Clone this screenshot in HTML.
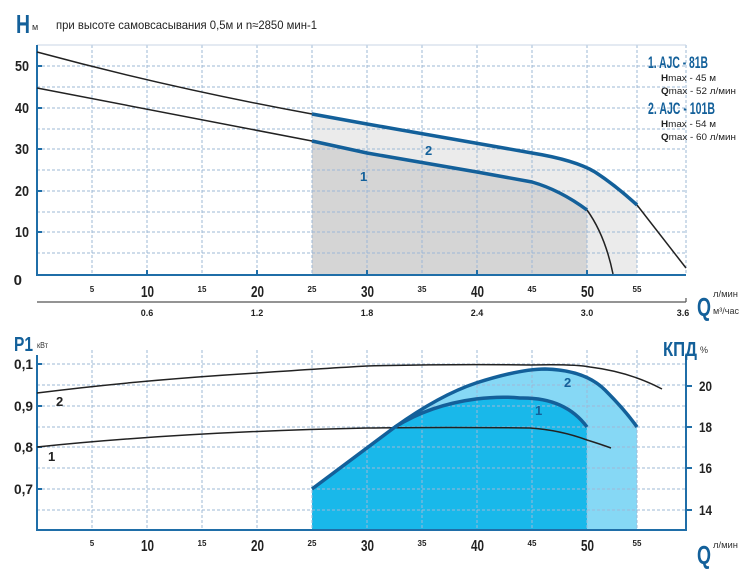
<!DOCTYPE html>
<html><head><meta charset="utf-8"><style>
html,body{margin:0;padding:0;background:#fff;width:750px;height:580px;overflow:hidden}
svg{display:block}
text{font-family:"Liberation Sans",sans-serif}
</style></head><body>
<svg width="750" height="580" viewBox="0 0 750 580" xmlns="http://www.w3.org/2000/svg">
<!-- TOP CHART -->
<path d="M312,114 L367,124 L532,153 Q575,160 595,172 Q615,185 637,205 L637,274 L312,274 Z" fill="#ebebeb"/>
<path d="M312,141 L367,153 L477,172 L532,182 Q560,190 587,210 L587,274 L312,274 Z" fill="#d5d5d5"/>
<g stroke="#9db8d6" stroke-width="1" stroke-dasharray="3,2" fill="none">
<path d="M37,66H686M37,87H686M37,108H686M37,129H686M37,149H686M37,170H686M37,191H686M37,212H686M37,232H686M37,253H686"/>
<path d="M92,45V274M147,45V274M202,45V274M257,45V274M312,45V274M367,45V274M422,45V274M477,45V274M532,45V274M587,45V274M637,45V274M686,45V274"/>
</g>
<path d="M37,45H686" stroke="#c8d6e6" stroke-width="1"/>
<path d="M37,45V275H686" stroke="#1f6ea8" stroke-width="2" fill="none"/>
<g stroke="#1f6ea8" stroke-width="2"><path d="M147,270V275M257,270V275M367,270V275M477,270V275M587,270V275M37,66H42M37,108H42M37,149H42M37,191H42M37,232H42"/></g>
<path d="M37,52 Q170,88 312,114" stroke="#222" stroke-width="1.5" fill="none"/>
<path d="M637,205 L686,268" stroke="#222" stroke-width="1.5" fill="none"/>
<path d="M37,88 Q175,115 312,141" stroke="#222" stroke-width="1.5" fill="none"/>
<path d="M587,210 Q605,235 613,274" stroke="#222" stroke-width="1.5" fill="none"/>
<path d="M312,114 L367,124 L532,153 Q575,160 595,172 Q615,185 637,205" stroke="#13609a" stroke-width="3.5" fill="none"/>
<path d="M312,141 L367,153 L477,172 L532,182 Q560,190 587,210" stroke="#13609a" stroke-width="3.5" fill="none"/>
<text x="425" y="155" font-size="13" font-weight="bold" fill="#13609a">2</text>
<text x="360" y="181" font-size="13" font-weight="bold" fill="#13609a">1</text>
<text x="16" y="33" font-size="26" font-weight="bold" fill="#13609a" textLength="14" lengthAdjust="spacingAndGlyphs">H</text>
<text x="32" y="30" font-size="9" fill="#333">м</text>
<text x="56" y="29" font-size="12" fill="#222" textLength="261" lengthAdjust="spacingAndGlyphs">при высоте самовсасывания 0,5м и n≈2850 мин-1</text>
<g font-size="15" font-weight="bold" fill="#222" text-anchor="end">
<text x="29" y="71" textLength="14" lengthAdjust="spacingAndGlyphs">50</text><text x="29" y="113" textLength="14" lengthAdjust="spacingAndGlyphs">40</text><text x="29" y="154" textLength="14" lengthAdjust="spacingAndGlyphs">30</text><text x="29" y="196" textLength="14" lengthAdjust="spacingAndGlyphs">20</text><text x="29" y="237" textLength="14" lengthAdjust="spacingAndGlyphs">10</text><text x="22" y="285">0</text></g>
<g font-size="8" font-weight="bold" fill="#222" text-anchor="middle">
<text x="92" y="292">5</text><text x="202" y="292">15</text><text x="312" y="292">25</text><text x="422" y="292">35</text><text x="532" y="292">45</text><text x="637" y="292">55</text></g>
<g font-size="16" font-weight="bold" fill="#222">
<text x="141" y="297" textLength="13" lengthAdjust="spacingAndGlyphs">10</text><text x="251" y="297" textLength="13" lengthAdjust="spacingAndGlyphs">20</text><text x="361" y="297" textLength="13" lengthAdjust="spacingAndGlyphs">30</text><text x="471" y="297" textLength="13" lengthAdjust="spacingAndGlyphs">40</text><text x="581" y="297" textLength="13" lengthAdjust="spacingAndGlyphs">50</text></g>
<path d="M37,302H686M686,298V302" stroke="#555" stroke-width="1.2"/>
<g font-size="9" font-weight="bold" fill="#222" text-anchor="middle">
<text x="147" y="316">0.6</text><text x="257" y="316">1.2</text><text x="367" y="316">1.8</text><text x="477" y="316">2.4</text><text x="587" y="316">3.0</text><text x="683" y="316">3.6</text></g>
<text x="697" y="316" font-size="26" font-weight="bold" fill="#13609a" textLength="14" lengthAdjust="spacingAndGlyphs">Q</text>
<text x="713" y="297" font-size="9" fill="#333" textLength="25" lengthAdjust="spacingAndGlyphs">л/мин</text>
<text x="713" y="314" font-size="9" fill="#333" textLength="26" lengthAdjust="spacingAndGlyphs">м³/час</text>
<text x="648" y="68" font-size="17" font-weight="bold" fill="#13609a" textLength="60" lengthAdjust="spacingAndGlyphs">1. AJC - 81B</text>
<text x="661" y="81" font-size="9" fill="#222" textLength="55" lengthAdjust="spacingAndGlyphs"><tspan font-weight="bold">H</tspan>max - 45 м</text>
<text x="661" y="94" font-size="9" fill="#222" textLength="75" lengthAdjust="spacingAndGlyphs"><tspan font-weight="bold">Q</tspan>max - 52 л/мин</text>
<text x="648" y="114" font-size="17" font-weight="bold" fill="#13609a" textLength="67" lengthAdjust="spacingAndGlyphs">2. AJC - 101B</text>
<text x="661" y="127" font-size="9" fill="#222" textLength="55" lengthAdjust="spacingAndGlyphs"><tspan font-weight="bold">H</tspan>max - 54 м</text>
<text x="661" y="140" font-size="9" fill="#222" textLength="75" lengthAdjust="spacingAndGlyphs"><tspan font-weight="bold">Q</tspan>max - 60 л/мин</text>

<!-- BOTTOM CHART -->
<path d="M312,489 L395,427 Q440,395 476,383 Q520,369 545,369 Q585,370 605,390 Q625,410 637,427 L637,530 L312,530 Z" fill="#86d8f5"/>
<path d="M312,489 L395,427 Q430,405 476,399 Q500,396 520,398 Q565,397 587,427 L587,530 L312,530 Z" fill="#19b8ea"/>
<g stroke="#9db8d6" stroke-width="1" stroke-dasharray="3,2" fill="none">
<path d="M37,364H686M37,385H686M37,406H686M37,427H686M37,447H686M37,468H686M37,489H686M37,510H686"/>
<path d="M92,350V530M147,350V530M202,350V530M257,350V530M312,350V530M367,350V530M422,350V530M477,350V530M532,350V530M587,350V530M637,350V530"/>
</g>
<path d="M37,355V530H686V355" stroke="#1f6ea8" stroke-width="2" fill="none"/>
<g stroke="#1f6ea8" stroke-width="2"><path d="M686,386H692M686,427H692M686,468H692M686,510H692M37,364H42M37,406H42M37,447H42M37,489H42"/></g>
<path d="M37,393 Q140,380 257,373 Q330,368 367,366 Q450,364 530,365 Q575,364 590,367 Q630,372 662,389" stroke="#222" stroke-width="1.5" fill="none"/>
<path d="M37,447 Q180,432 367,428 Q450,427 530,428 Q560,430 587,440 Q600,444 611,448" stroke="#222" stroke-width="1.5" fill="none"/>
<path d="M312,489 L395,427 Q440,395 476,383 Q520,369 545,369 Q585,370 605,390 Q625,410 637,427" stroke="#13609a" stroke-width="3.5" fill="none"/>
<path d="M395,427 Q430,405 476,399 Q500,396 520,398 Q565,397 587,427" stroke="#13609a" stroke-width="3.5" fill="none"/>
<text x="56" y="406" font-size="13" font-weight="bold" fill="#222">2</text>
<text x="48" y="461" font-size="13" font-weight="bold" fill="#222">1</text>
<text x="564" y="387" font-size="13" font-weight="bold" fill="#13609a">2</text>
<text x="535" y="415" font-size="13" font-weight="bold" fill="#13609a">1</text>
<text x="14" y="351" font-size="20" font-weight="bold" fill="#13609a" textLength="19" lengthAdjust="spacingAndGlyphs">P1</text>
<text x="37" y="348" font-size="8" fill="#333" textLength="11" lengthAdjust="spacingAndGlyphs">кВт</text>
<text x="663" y="356" font-size="20" font-weight="bold" fill="#13609a" textLength="34" lengthAdjust="spacingAndGlyphs">КПД</text>
<text x="700" y="353" font-size="9" fill="#333">%</text>
<g font-size="14" font-weight="bold" fill="#222" text-anchor="end">
<text x="33" y="369" textLength="19" lengthAdjust="spacingAndGlyphs">0,1</text><text x="33" y="411" textLength="19" lengthAdjust="spacingAndGlyphs">0,9</text><text x="33" y="452" textLength="19" lengthAdjust="spacingAndGlyphs">0,8</text><text x="33" y="494" textLength="19" lengthAdjust="spacingAndGlyphs">0,7</text></g>
<g font-size="14" font-weight="bold" fill="#222">
<text x="699" y="391" textLength="13" lengthAdjust="spacingAndGlyphs">20</text><text x="699" y="432" textLength="13" lengthAdjust="spacingAndGlyphs">18</text><text x="699" y="473" textLength="13" lengthAdjust="spacingAndGlyphs">16</text><text x="699" y="515" textLength="13" lengthAdjust="spacingAndGlyphs">14</text></g>
<g font-size="8" font-weight="bold" fill="#222" text-anchor="middle">
<text x="92" y="546">5</text><text x="202" y="546">15</text><text x="312" y="546">25</text><text x="422" y="546">35</text><text x="532" y="546">45</text><text x="637" y="546">55</text></g>
<g font-size="16" font-weight="bold" fill="#222">
<text x="141" y="551" textLength="13" lengthAdjust="spacingAndGlyphs">10</text><text x="251" y="551" textLength="13" lengthAdjust="spacingAndGlyphs">20</text><text x="361" y="551" textLength="13" lengthAdjust="spacingAndGlyphs">30</text><text x="471" y="551" textLength="13" lengthAdjust="spacingAndGlyphs">40</text><text x="581" y="551" textLength="13" lengthAdjust="spacingAndGlyphs">50</text></g>
<text x="697" y="564" font-size="26" font-weight="bold" fill="#13609a" textLength="14" lengthAdjust="spacingAndGlyphs">Q</text>
<text x="713" y="548" font-size="9" fill="#333" textLength="25" lengthAdjust="spacingAndGlyphs">л/мин</text>
</svg>
</body></html>
